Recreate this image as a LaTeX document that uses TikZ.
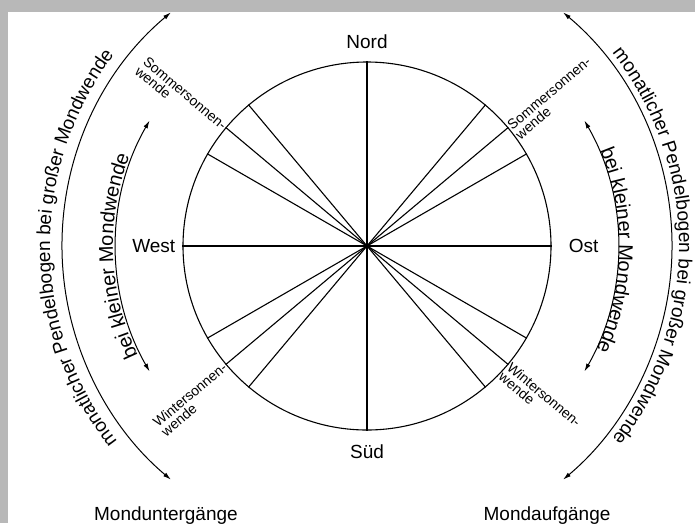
\documentclass[tikz,border=0pt]{standalone}
\usepackage{fontspec}
\setmainfont{Liberation Sans}
\usetikzlibrary{positioning,arrows.meta,decorations.text}

\newcommand\grossbogenfont{\fontsize{19}{23}\selectfont}
\newcommand\kleinbogenfont{\fontsize{20}{24}\selectfont}

\tikzset{
  himmel/.style={font=\fontsize{19}{23}\selectfont, inner sep=0pt},
  sonnwende/.style={font=\fontsize{14}{16}\selectfont, inner sep=1pt},
  linie/.style={line width=1.1pt},
  bogen/.style={line width=1pt, {Latex[length=8pt,width=4.5pt]}-{Latex[length=8pt,width=4.5pt]}},
}

\begin{document}
\begin{tikzpicture}[x=1pt,y=1pt]

\useasboundingbox (-367,-277) rectangle (328,246);
\fill[black!28] (-367,-277) rectangle (328,246);
\fill[white] (-359,-277) rectangle (328,234);

% Horizont
\node[circle, draw, linie, minimum size=368pt, inner sep=0pt] (rose) at (0,0) {};
\draw[linie] (rose.north) -- (rose.south);
\draw[linie] (rose.west) -- (rose.east);
\foreach \a/\b in {30/210,40/220,50/230,130/310,140/320,150/330}
  \draw[linie] (rose.\a) -- (rose.\b);

\node[himmel, above=13pt of rose] (nord) {Nord};
\node[himmel, below=14pt of rose] (sued) {Süd};
\node[himmel, left=7pt of rose] (west) {West};
\node[himmel, right=17pt of rose] (ost) {Ost};

% Sonnenwenden
\node[sonnwende, rotate=-40, anchor=east] (somW) at (rose.140) {Sommersonnen-};
\node[sonnwende, rotate=-40, anchor=north west] (somWb) at (somW.south west) {wende};
\node[sonnwende, rotate=40, anchor=west] (somO) at (rose.40) {Sommersonnen-};
\node[sonnwende, rotate=40, anchor=north west] (somOb) at (somO.south west) {wende};
\node[sonnwende, rotate=40, anchor=east] (winW) at (rose.220) {Wintersonnen-};
\node[sonnwende, rotate=40, anchor=north west] (winWb) at (winW.south west) {wende};
\node[sonnwende, rotate=-40, anchor=west] (winO) at (rose.320) {Wintersonnen-};
\node[sonnwende, rotate=-40, anchor=north west] (winOb) at (winO.south west) {wende};

% Pendelboegen
\coordinate (gw1) at (130:305);
\coordinate (gw2) at (230:305);
\coordinate (go1) at (50:305);
\coordinate (go2) at (-50:305);
\draw[bogen] (gw1) arc[start angle=130, end angle=230, radius=305];
\draw[bogen] (go1) arc[start angle=50, end angle=-50, radius=305];
\draw[bogen] (150:251) arc[start angle=150, end angle=210, radius=251];
\draw[bogen] (30:251) arc[start angle=30, end angle=-30, radius=251];

\path[decorate, decoration={text along path, text align=center,
  text={|\grossbogenfont|monatlicher Pendelbogen bei großer Mondwende}}]
  (228:317) arc[start angle=228, end angle=133, radius=317];
\path[decorate, decoration={text along path, text align=center,
  text={|\grossbogenfont|monatlicher Pendelbogen bei großer Mondwende}}]
  (47:312) arc[start angle=47, end angle=-47, radius=312];
\path[decorate, decoration={text along path, text align=center,
  text={|\kleinbogenfont|bei kleiner Mondwende}}]
  (212.4:254) arc[start angle=212.4, end angle=152.4, radius=254];
\path[decorate, decoration={text along path, text align=center,
  text={|\kleinbogenfont|bei kleiner Mondwende}}]
  (29:252) arc[start angle=29, end angle=-31, radius=252];

\node[himmel, below=27pt of gw2, xshift=-5pt] (unter) {Monduntergänge};
\node[himmel, below=27pt of go2, xshift=-16pt] (auf) {Mondaufgänge};

\end{tikzpicture}
\end{document}
